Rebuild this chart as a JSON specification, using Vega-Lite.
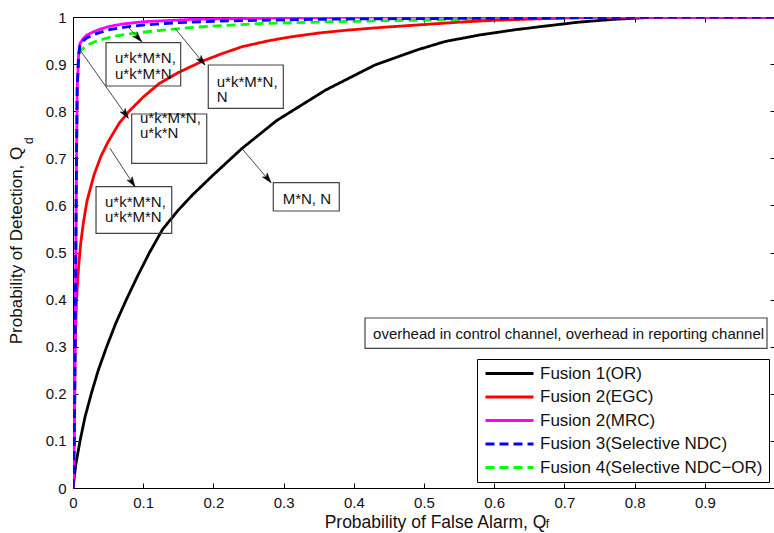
{
  "$schema": "https://vega.github.io/schema/vega-lite/v6.json",
  "width": 702,
  "height": 471,
  "autosize": {"type": "none"},
  "padding": {"left": 73, "top": 17, "right": 0, "bottom": 45},
  "background": "white",
  "config": {
    "font": "Liberation Sans",
    "view": {"stroke": "#000", "strokeWidth": 1},
    "axis": {"grid": false, "domainColor": "#000", "tickColor": "#000", "labelColor": "#111", "titleColor": "#111", "labelFont": "Liberation Sans", "titleFont": "Liberation Sans", "labelFontSize": 15, "titleFontSize": 17, "titleFontWeight": "normal"},
    "legend": {"orient": "bottom-right", "offset": 6, "padding": 6, "rowPadding": 5.5, "strokeColor": "#000", "fillColor": "#fff", "symbolType": "M-1,0H7", "symbolSize": 144, "symbolStrokeWidth": 3, "labelFontSize": 17, "labelFont": "Liberation Sans", "labelOffset": 40, "labelColor": "#111", "labelLimit": 0}
  },
  "datasets": {
    "curves": [
      {"s":"Fusion 1(OR)","x":0,"y":0},{"s":"Fusion 1(OR)","x":0.004,"y":0.05},{"s":"Fusion 1(OR)","x":0.01,"y":0.1},{"s":"Fusion 1(OR)","x":0.017,"y":0.15},{"s":"Fusion 1(OR)","x":0.026,"y":0.2},{"s":"Fusion 1(OR)","x":0.036,"y":0.25},{"s":"Fusion 1(OR)","x":0.048,"y":0.3},{"s":"Fusion 1(OR)","x":0.061,"y":0.35},{"s":"Fusion 1(OR)","x":0.076,"y":0.4},{"s":"Fusion 1(OR)","x":0.092,"y":0.45},{"s":"Fusion 1(OR)","x":0.109,"y":0.5},{"s":"Fusion 1(OR)","x":0.128,"y":0.55},{"s":"Fusion 1(OR)","x":0.15,"y":0.59},{"s":"Fusion 1(OR)","x":0.17,"y":0.622},{"s":"Fusion 1(OR)","x":0.2,"y":0.665},{"s":"Fusion 1(OR)","x":0.24,"y":0.72},{"s":"Fusion 1(OR)","x":0.29,"y":0.78},{"s":"Fusion 1(OR)","x":0.36,"y":0.845},{"s":"Fusion 1(OR)","x":0.43,"y":0.898},{"s":"Fusion 1(OR)","x":0.49,"y":0.93},{"s":"Fusion 1(OR)","x":0.53,"y":0.948},{"s":"Fusion 1(OR)","x":0.58,"y":0.962},{"s":"Fusion 1(OR)","x":0.63,"y":0.973},{"s":"Fusion 1(OR)","x":0.68,"y":0.982},{"s":"Fusion 1(OR)","x":0.72,"y":0.989},{"s":"Fusion 1(OR)","x":0.77,"y":0.995},{"s":"Fusion 1(OR)","x":0.82,"y":0.999},{"s":"Fusion 1(OR)","x":0.85,"y":1},{"s":"Fusion 1(OR)","x":1,"y":1},
      {"s":"Fusion 2(EGC)","x":0,"y":0},{"s":"Fusion 2(EGC)","x":0.001,"y":0.1},{"s":"Fusion 2(EGC)","x":0.002,"y":0.2},{"s":"Fusion 2(EGC)","x":0.003,"y":0.3},{"s":"Fusion 2(EGC)","x":0.005,"y":0.4},{"s":"Fusion 2(EGC)","x":0.008,"y":0.47},{"s":"Fusion 2(EGC)","x":0.011,"y":0.52},{"s":"Fusion 2(EGC)","x":0.015,"y":0.565},{"s":"Fusion 2(EGC)","x":0.02,"y":0.61},{"s":"Fusion 2(EGC)","x":0.03,"y":0.665},{"s":"Fusion 2(EGC)","x":0.04,"y":0.705},{"s":"Fusion 2(EGC)","x":0.05,"y":0.735},{"s":"Fusion 2(EGC)","x":0.066,"y":0.775},{"s":"Fusion 2(EGC)","x":0.08,"y":0.8},{"s":"Fusion 2(EGC)","x":0.1,"y":0.83},{"s":"Fusion 2(EGC)","x":0.123,"y":0.859},{"s":"Fusion 2(EGC)","x":0.15,"y":0.882},{"s":"Fusion 2(EGC)","x":0.184,"y":0.906},{"s":"Fusion 2(EGC)","x":0.21,"y":0.921},{"s":"Fusion 2(EGC)","x":0.241,"y":0.937},{"s":"Fusion 2(EGC)","x":0.28,"y":0.95},{"s":"Fusion 2(EGC)","x":0.311,"y":0.958},{"s":"Fusion 2(EGC)","x":0.35,"y":0.966},{"s":"Fusion 2(EGC)","x":0.39,"y":0.972},{"s":"Fusion 2(EGC)","x":0.44,"y":0.978},{"s":"Fusion 2(EGC)","x":0.49,"y":0.983},{"s":"Fusion 2(EGC)","x":0.55,"y":0.989},{"s":"Fusion 2(EGC)","x":0.6,"y":0.993},{"s":"Fusion 2(EGC)","x":0.68,"y":0.997},{"s":"Fusion 2(EGC)","x":0.75,"y":1},{"s":"Fusion 2(EGC)","x":1,"y":1},
      {"s":"Fusion 2(MRC)","x":0,"y":0},{"s":"Fusion 2(MRC)","x":0.002,"y":0.1},{"s":"Fusion 2(MRC)","x":0.003,"y":0.3},{"s":"Fusion 2(MRC)","x":0.004,"y":0.5},{"s":"Fusion 2(MRC)","x":0.005,"y":0.7},{"s":"Fusion 2(MRC)","x":0.006,"y":0.85},{"s":"Fusion 2(MRC)","x":0.008,"y":0.92},{"s":"Fusion 2(MRC)","x":0.01,"y":0.944},{"s":"Fusion 2(MRC)","x":0.015,"y":0.955},{"s":"Fusion 2(MRC)","x":0.02,"y":0.962},{"s":"Fusion 2(MRC)","x":0.03,"y":0.969},{"s":"Fusion 2(MRC)","x":0.04,"y":0.975},{"s":"Fusion 2(MRC)","x":0.052,"y":0.98},{"s":"Fusion 2(MRC)","x":0.07,"y":0.985},{"s":"Fusion 2(MRC)","x":0.1,"y":0.99},{"s":"Fusion 2(MRC)","x":0.17,"y":0.995},{"s":"Fusion 2(MRC)","x":0.3,"y":0.998},{"s":"Fusion 2(MRC)","x":0.45,"y":1},{"s":"Fusion 2(MRC)","x":1,"y":1},
      {"s":"Fusion 3(Selective NDC)","x":0,"y":0},{"s":"Fusion 3(Selective NDC)","x":0.002,"y":0.1},{"s":"Fusion 3(Selective NDC)","x":0.003,"y":0.3},{"s":"Fusion 3(Selective NDC)","x":0.004,"y":0.5},{"s":"Fusion 3(Selective NDC)","x":0.005,"y":0.7},{"s":"Fusion 3(Selective NDC)","x":0.006,"y":0.85},{"s":"Fusion 3(Selective NDC)","x":0.008,"y":0.92},{"s":"Fusion 3(Selective NDC)","x":0.01,"y":0.94},{"s":"Fusion 3(Selective NDC)","x":0.015,"y":0.95},{"s":"Fusion 3(Selective NDC)","x":0.02,"y":0.956},{"s":"Fusion 3(Selective NDC)","x":0.03,"y":0.963},{"s":"Fusion 3(Selective NDC)","x":0.04,"y":0.968},{"s":"Fusion 3(Selective NDC)","x":0.052,"y":0.973},{"s":"Fusion 3(Selective NDC)","x":0.076,"y":0.979},{"s":"Fusion 3(Selective NDC)","x":0.1,"y":0.983},{"s":"Fusion 3(Selective NDC)","x":0.15,"y":0.988},{"s":"Fusion 3(Selective NDC)","x":0.2,"y":0.991},{"s":"Fusion 3(Selective NDC)","x":0.3,"y":0.994},{"s":"Fusion 3(Selective NDC)","x":0.4,"y":0.996},{"s":"Fusion 3(Selective NDC)","x":0.55,"y":0.997},{"s":"Fusion 3(Selective NDC)","x":0.7,"y":0.998},{"s":"Fusion 3(Selective NDC)","x":0.8,"y":1},{"s":"Fusion 3(Selective NDC)","x":1,"y":1},
      {"s":"Fusion 4(Selective NDC−OR)","x":0,"y":0},{"s":"Fusion 4(Selective NDC−OR)","x":0.002,"y":0.1},{"s":"Fusion 4(Selective NDC−OR)","x":0.003,"y":0.3},{"s":"Fusion 4(Selective NDC−OR)","x":0.004,"y":0.5},{"s":"Fusion 4(Selective NDC−OR)","x":0.005,"y":0.7},{"s":"Fusion 4(Selective NDC−OR)","x":0.006,"y":0.84},{"s":"Fusion 4(Selective NDC−OR)","x":0.008,"y":0.905},{"s":"Fusion 4(Selective NDC−OR)","x":0.01,"y":0.928},{"s":"Fusion 4(Selective NDC−OR)","x":0.02,"y":0.94},{"s":"Fusion 4(Selective NDC−OR)","x":0.03,"y":0.947},{"s":"Fusion 4(Selective NDC−OR)","x":0.052,"y":0.957},{"s":"Fusion 4(Selective NDC−OR)","x":0.075,"y":0.963},{"s":"Fusion 4(Selective NDC−OR)","x":0.1,"y":0.968},{"s":"Fusion 4(Selective NDC−OR)","x":0.17,"y":0.978},{"s":"Fusion 4(Selective NDC−OR)","x":0.264,"y":0.986},{"s":"Fusion 4(Selective NDC−OR)","x":0.4,"y":0.991},{"s":"Fusion 4(Selective NDC−OR)","x":0.53,"y":0.994},{"s":"Fusion 4(Selective NDC−OR)","x":0.65,"y":0.997},{"s":"Fusion 4(Selective NDC−OR)","x":0.75,"y":1},{"s":"Fusion 4(Selective NDC−OR)","x":1,"y":1}
    ],
    "boxes": [
      {"x":0.047,"x2":0.1534,"y":0.9454,"y2":0.8535},
      {"x":0.1927,"x2":0.2996,"y":0.8981,"y2":0.8062},
      {"x":0.0836,"x2":0.1905,"y":0.7941,"y2":0.6894},
      {"x":0.0328,"x2":0.1406,"y":0.6397,"y2":0.5408},
      {"x":0.2853,"x2":0.3793,"y":0.6482,"y2":0.5881},
      {"x":0.416,"x2":0.9886,"y":0.3609,"y2":0.2966}
    ],
    "notes": [
      {"t":"u*k*M*N,\nu*k*M*N","x":0.0598,"y":0.9123},
      {"t":"u*k*M*N,\nN","x":0.2047,"y":0.8626},
      {"t":"u*k*M*N,\nu*k*N","x":0.0954,"y":0.7856},
      {"t":"u*k*M*N,\nu*k*M*N","x":0.0456,"y":0.6079},
      {"t":"M*N, N","x":0.2987,"y":0.613},
      {"t":"overhead in control channel, overhead in reporting channel","x":0.4274,"y":0.328}
    ],
    "arrows": [
      {"x":0.0788,"y":0.9781,"x2":0.0979,"y2":0.9476,"a":137},
      {"x":0.1453,"y":0.976,"x2":0.188,"y2":0.8981,"a":141},
      {"x":0.01,"y":0.93,"x2":0.0788,"y2":0.7849,"a":145},
      {"x":0.0527,"y":0.7212,"x2":0.0883,"y2":0.6397,"a":147},
      {"x":0.2403,"y":0.7212,"x2":0.2821,"y2":0.6482,"a":141}
    ],
    "subs": [
      {"t":"f","x":0.6735,"y":-0.0849},
      {"t":"d","x":-0.057,"y":0.7304}
    ]
  },
  "layer": [
    {
      "data": {"name": "curves"},
      "transform": [{"filter": "datum.s === 'Fusion 4(Selective NDC−OR)'"}],
      "mark": {"type": "line", "strokeWidth": 2.8, "clip": true},
      "encoding": {
        "x": {"field": "x", "type": "quantitative", "scale": {"domain": [0, 1], "nice": false},
              "axis": {"orient": "bottom", "values": [0,0.1,0.2,0.3,0.4,0.5,0.6,0.7,0.8,0.9], "format": ".1~f", "tickSize": -5, "labelPadding": 12, "labelFlush": false, "labelOverlap": false,
                       "title": "Probability of False Alarm, Q", "titleFontSize": 17.5, "titleX": 362, "titleY": 39, "titleAlign": "center", "titleBaseline": "alphabetic"}},
        "y": {"field": "y", "type": "quantitative", "scale": {"domain": [0, 1], "nice": false},
              "axis": {"orient": "left", "values": [0,0.1,0.2,0.3,0.4,0.5,0.6,0.7,0.8,0.9,1], "format": ".1~f", "tickSize": -5, "labelPadding": 12, "labelFlush": false, "labelOverlap": false,
                       "title": "Probability of Detection, Q", "titleFontSize": 17, "titleAngle": 270, "titleX": -52, "titleY": 228, "titleAlign": "center", "titleBaseline": "alphabetic"}},
        "color": {"field": "s", "type": "nominal",
                  "scale": {"domain": ["Fusion 1(OR)","Fusion 2(EGC)","Fusion 2(MRC)","Fusion 3(Selective NDC)","Fusion 4(Selective NDC−OR)"], "range": ["#000000","#ff0000","#ff00ff","#0000ff","#00ff00"]},
                  "legend": {"title": null}},
        "strokeDash": {"field": "s", "type": "nominal",
                  "scale": {"domain": ["Fusion 1(OR)","Fusion 2(EGC)","Fusion 2(MRC)","Fusion 3(Selective NDC)","Fusion 4(Selective NDC−OR)"], "range": [[1,0],[1,0],[1,0],[9,5],[9,5]]},
                  "legend": {"title": null}}
      }
    },
    {
      "data": {"name": "curves"},
      "transform": [{"filter": "datum.s !== 'Fusion 4(Selective NDC−OR)'"}],
      "mark": {"type": "line", "strokeWidth": 2.8, "clip": true},
      "encoding": {
        "x": {"field": "x", "type": "quantitative", "scale": {"domain": [0, 1], "nice": false}, "axis": null},
        "y": {"field": "y", "type": "quantitative", "scale": {"domain": [0, 1], "nice": false}, "axis": null},
        "color": {"field": "s", "type": "nominal",
                  "scale": {"domain": ["Fusion 1(OR)","Fusion 2(EGC)","Fusion 2(MRC)","Fusion 3(Selective NDC)","Fusion 4(Selective NDC−OR)"], "range": ["#000000","#ff0000","#ff00ff","#0000ff","#00ff00"]},
                  "legend": {"title": null}},
        "strokeDash": {"field": "s", "type": "nominal",
                  "scale": {"domain": ["Fusion 1(OR)","Fusion 2(EGC)","Fusion 2(MRC)","Fusion 3(Selective NDC)","Fusion 4(Selective NDC−OR)"], "range": [[1,0],[1,0],[1,0],[9,5],[9,5]]},
                  "legend": {"title": null}}
      }
    },
    {
      "data": {"name": "curves"},
      "mark": {"type": "point", "opacity": 0},
      "encoding": {
        "x": {"field": "x", "type": "quantitative", "scale": {"domain": [0, 1], "nice": false},
              "axis": {"orient": "top", "values": [0,0.1,0.2,0.3,0.4,0.5,0.6,0.7,0.8,0.9,1], "labels": false, "tickSize": -5, "title": null}},
        "y": {"field": "y", "type": "quantitative", "scale": {"domain": [0, 1], "nice": false},
              "axis": {"orient": "right", "values": [0,0.1,0.2,0.3,0.4,0.5,0.6,0.7,0.8,0.9,1], "labels": false, "tickSize": -5, "title": null}}
      }
    },
    {
      "data": {"name": "boxes"},
      "mark": {"type": "rect", "filled": false, "stroke": "#444", "strokeWidth": 1.2},
      "encoding": {
        "x": {"field": "x", "type": "quantitative", "scale": {"domain": [0, 1], "nice": false}, "axis": null},
        "x2": {"field": "x2"},
        "y": {"field": "y", "type": "quantitative", "scale": {"domain": [0, 1], "nice": false}, "axis": null},
        "y2": {"field": "y2"}
      }
    },
    {
      "data": {"name": "arrows"},
      "mark": {"type": "rule", "stroke": "#333", "strokeWidth": 0.9},
      "encoding": {
        "x": {"field": "x", "type": "quantitative", "scale": {"domain": [0, 1], "nice": false}, "axis": null},
        "x2": {"field": "x2"},
        "y": {"field": "y", "type": "quantitative", "scale": {"domain": [0, 1], "nice": false}, "axis": null},
        "y2": {"field": "y2"}
      }
    },
    {
      "data": {"name": "arrows"},
      "mark": {"type": "point", "shape": "M0,0L0.55,1.8L0,1.35L-0.55,1.8Z", "filled": true, "fill": "#000", "stroke": "#000", "strokeWidth": 0.5, "size": 121, "opacity": 1},
      "encoding": {
        "x": {"field": "x2", "type": "quantitative", "scale": {"domain": [0, 1], "nice": false}, "axis": null},
        "y": {"field": "y2", "type": "quantitative", "scale": {"domain": [0, 1], "nice": false}, "axis": null},
        "angle": {"field": "a", "type": "quantitative", "scale": null}
      }
    },
    {
      "data": {"name": "notes"},
      "mark": {"type": "text", "align": "left", "baseline": "middle", "fontSize": 15, "lineHeight": 15.5, "lineBreak": "\n", "color": "#111", "font": "Liberation Sans"},
      "encoding": {
        "x": {"field": "x", "type": "quantitative", "scale": {"domain": [0, 1], "nice": false}, "axis": null},
        "y": {"field": "y", "type": "quantitative", "scale": {"domain": [0, 1], "nice": false}, "axis": null},
        "text": {"field": "t"}
      }
    },
    {
      "data": {"name": "subs"},
      "transform": [{"filter": "datum.t === 'f'"}],
      "mark": {"type": "text", "align": "left", "baseline": "alphabetic", "fontSize": 12, "color": "#111", "font": "Liberation Sans", "clip": false},
      "encoding": {
        "x": {"field": "x", "type": "quantitative", "scale": {"domain": [0, 1], "nice": false}, "axis": null},
        "y": {"field": "y", "type": "quantitative", "scale": {"domain": [0, 1], "nice": false}, "axis": null},
        "text": {"field": "t"}
      }
    },
    {
      "data": {"name": "subs"},
      "transform": [{"filter": "datum.t === 'd'"}],
      "mark": {"type": "text", "align": "left", "baseline": "alphabetic", "fontSize": 12, "angle": 270, "color": "#111", "font": "Liberation Sans", "clip": false},
      "encoding": {
        "x": {"field": "x", "type": "quantitative", "scale": {"domain": [0, 1], "nice": false}, "axis": null},
        "y": {"field": "y", "type": "quantitative", "scale": {"domain": [0, 1], "nice": false}, "axis": null},
        "text": {"field": "t"}
      }
    }
  ],
  "resolve": {"axis": {"x": "independent", "y": "independent"}}
}
